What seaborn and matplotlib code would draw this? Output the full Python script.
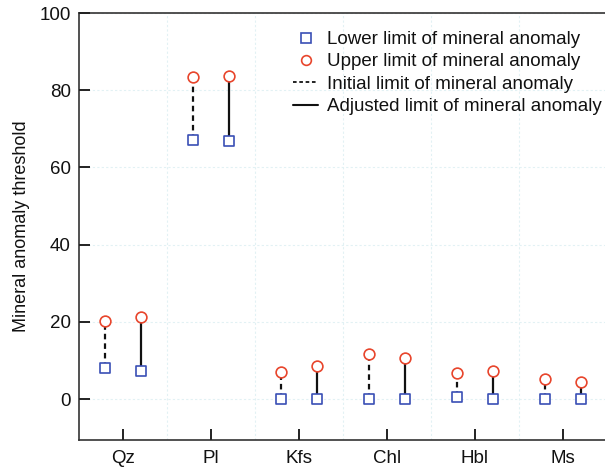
import matplotlib
matplotlib.use("Agg")
import matplotlib.pyplot as plt
from matplotlib.lines import Line2D
import seaborn as sns
import pandas as pd
import numpy as np

minerals = ["Qz", "Pl", "Kfs", "Chl", "Hbl", "Ms"]
initial_lower = [8.0, 67.2, 0.0, 0.0, 0.5, 0.0]
initial_upper = [20.2, 83.5, 6.9, 11.6, 6.7, 5.3]
adjusted_lower = [7.3, 66.9, 0.0, 0.0, 0.0, 0.0]
adjusted_upper = [21.2, 83.8, 8.6, 10.6, 7.3, 4.4]
yticks = [0, 20, 40, 60, 80, 100]

sns.set_theme(style="ticks")
plt.rcParams['font.family'] = ['Liberation Sans', 'DejaVu Sans']

fig = plt.figure(figsize=(6.05, 4.68), dpi=100)
ax = fig.add_axes([79/605, 28/468, 528/605, 427/468])

offset = 0.2
rows = []
for i, m in enumerate(minerals):
    rows.append(dict(x=i + 1 - offset, lower=initial_lower[i], upper=initial_upper[i], kind="Initial"))
    rows.append(dict(x=i + 1 + offset, lower=adjusted_lower[i], upper=adjusted_upper[i], kind="Adjusted"))
df = pd.DataFrame(rows)

for y in yticks:
    ax.axhline(y, color="#e2f1f4", lw=0.8, ls=(0, (2, 2)), zorder=0)
for xg in np.arange(1.5, 6.0, 1.0):
    ax.axvline(xg, color="#e2f1f4", lw=0.8, ls=(0, (2, 2)), zorder=0)

for _, r in df.iterrows():
    ax.plot([r.x, r.x], [r.lower, r.upper], color="#111111", lw=1.6,
            ls=(0, (2.5, 1.8)) if r.kind == "Initial" else "-", zorder=2)

sns.scatterplot(data=df, x="x", y="lower", marker="s", s=42, facecolor="white",
                edgecolor="#3a4fb5", linewidth=1.2, ax=ax, zorder=3, legend=False)
sns.scatterplot(data=df, x="x", y="upper", marker="o", s=60, facecolor="white",
                edgecolor="#e8452c", linewidth=1.2, ax=ax, zorder=3, legend=False)

ax.set_xlim(0.5, 6.5)
ax.set_ylim(-10.6, 100)
ax.set_xticks(range(1, 7))
ax.set_xticklabels(minerals)
ax.set_yticks(yticks)
ax.set_xlabel("")
ax.set_ylabel("Mineral anomaly threshold", fontsize=13, color="#111111", labelpad=7)
ax.xaxis.set_tick_params(which="major", direction="in", length=8, width=1.4,
                         color="#222222", labelsize=13.5, labelcolor="#111111",
                         bottom=True, top=False, pad=7)
ax.yaxis.set_tick_params(which="major", direction="in", length=8, width=1.4,
                         color="#222222", labelsize=13.5, labelcolor="#111111",
                         left=True, right=False, pad=6)
for tl in ax.xaxis.get_ticklines() + ax.yaxis.get_ticklines():
    tl.set_zorder(5)
    tl.set_clip_on(False)
for s in ["left", "bottom", "top"]:
    ax.spines[s].set_visible(True)
    ax.spines[s].set_color("#333333")
    ax.spines[s].set_linewidth(1.2)
ax.spines["right"].set_visible(False)
ax.set_axisbelow(False)

handles = [
    Line2D([], [], marker="s", ls="none", markerfacecolor="white", markeredgecolor="#3a4fb5", markersize=6.5, markeredgewidth=1.2),
    Line2D([], [], marker="o", ls="none", markerfacecolor="white", markeredgecolor="#e8452c", markersize=7, markeredgewidth=1.2),
    Line2D([], [], color="#111111", lw=1.3, ls=(0, (2, 1.5))),
    Line2D([], [], color="#111111", lw=1.5, ls="-"),
]
labels = ["Lower limit of mineral anomaly", "Upper limit of mineral anomaly",
          "Initial limit of mineral anomaly", "Adjusted limit of mineral anomaly"]
leg = ax.legend(handles, labels, loc="upper left", bbox_to_anchor=((293 - 79) / 528, 1 - 18 / 427),
                frameon=False, fontsize=13.5, labelspacing=0.28, handlelength=1.35,
                handletextpad=0.45, borderaxespad=0, borderpad=0)
for t in leg.get_texts():
    t.set_color("#111111")

fig.savefig("out.png", dpi=100)
